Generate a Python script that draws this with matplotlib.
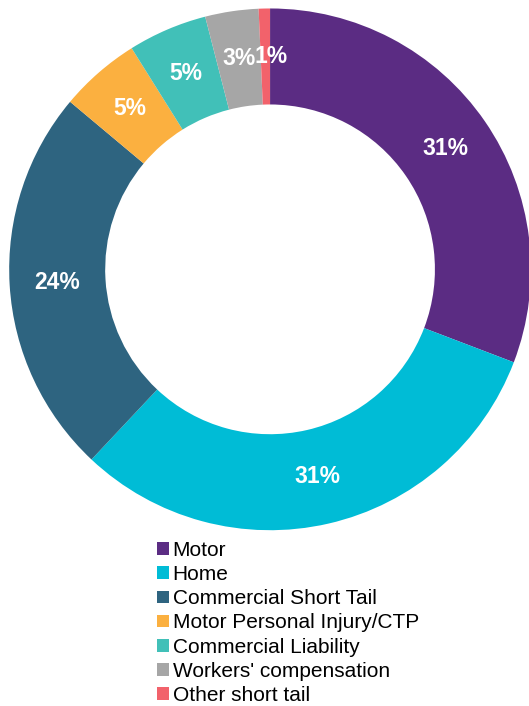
import matplotlib.pyplot as plt
import numpy as np
from matplotlib.patches import Patch

# data
categories = ["Motor", "Home", "Commercial Short Tail", "Motor Personal Injury/CTP",
              "Commercial Liability", "Workers' compensation", "Other short tail"]
shares = [30.8, 31.2, 24.1, 5.0, 4.9, 3.3, 0.7]
pct_labels = ["31%", "31%", "24%", "5%", "5%", "3%", "1%"]
colors = ["#5b2c83", "#00bcd6", "#2e6480", "#fbb040", "#41c0b8", "#a6a6a6", "#f2626b"]

plt.rcParams["font.family"] = ["Liberation Sans", "DejaVu Sans"]

fig = plt.figure(figsize=(5.29, 7.06), dpi=100)
ax = fig.add_axes([0.017, 0.249, 0.987, 0.739])

inner = 0.632
wedges, _ = ax.pie(shares, colors=colors, startangle=90, counterclock=False,
                   radius=1, wedgeprops=dict(width=1 - inner, linewidth=0))

# percentage labels in the middle of the ring
total = sum(shares)
cum = 0
r_lab = (1 + inner) / 2
for i, (v, lab) in enumerate(zip(shares, pct_labels)):
    mid = cum + v / 2
    ang = np.deg2rad(90 - 360 * mid / total)
    x = r_lab * np.cos(ang)
    if i == len(shares) - 1:
        x += 0.02  # nudge the tiny slice label off its neighbour
    ax.text(x, r_lab * np.sin(ang), lab, ha="center", va="center",
            color="white", fontsize=16.5, fontweight="bold")
    cum += v

ax.set_xlim(-1, 1)
ax.set_ylim(-1, 1)
ax.set_aspect("equal")
ax.axis("off")

handles = [Patch(facecolor=c, edgecolor="none") for c in colors]
fig.legend(handles, categories, loc="upper left", bbox_to_anchor=(0.297, 0.234),
           frameon=False, fontsize=15, handlelength=0.55, handleheight=0.55,
           handletextpad=0.2, labelspacing=0.25, borderaxespad=0, borderpad=0)

fig.savefig("out.png", dpi=100)
